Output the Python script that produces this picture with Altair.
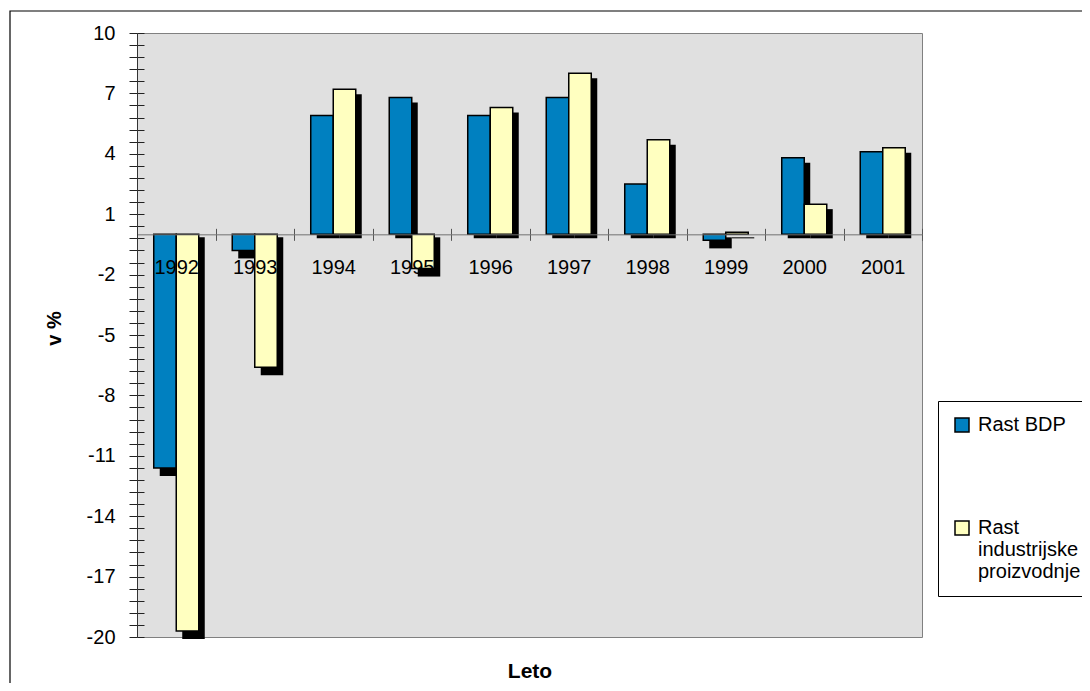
import altair as alt
import pandas as pd

# ---- data ----
years = ["1992", "1993", "1994", "1995", "1996", "1997", "1998", "1999", "2000", "2001"]
series = ["Rast BDP", "Rast industrijske proizvodnje"]
rast_bdp = [-11.6, -0.8, 5.9, 6.8, 5.9, 6.8, 2.5, -0.3, 3.8, 4.1]
rast_ind = [-19.7, -6.6, 7.2, -1.7, 6.3, 8.0, 4.7, 0.1, 1.5, 4.3]
y_major = [10, 7, 4, 1, -2, -5, -8, -11, -14, -17, -20]
colors = ["#0080C0", "#FFFFC0"]

rows = []
for i, yr in enumerate(years):
    rows.append({"year": yr, "series": series[0], "v": rast_bdp[i]})
    rows.append({"year": yr, "series": series[1], "v": rast_ind[i]})
df = pd.DataFrame(rows)

W, H = 785, 604
ymin, ymax = -20, 10
zero_px = H * ymax / (ymax - ymin)
minor_ticks = [round(ymin + 0.6 * i, 1) for i in range(51)]
major_js = "[" + ",".join(str(v) for v in y_major) + "]"

FONT = "Liberation Sans"
xscale = alt.Scale(paddingInner=0, paddingOuter=0)
yscale = alt.Scale(domain=[ymin, ymax], nice=False, zero=False)
offscale = alt.Scale(paddingInner=0, paddingOuter=0.744)
# same sub-bands, shifted a few pixels to the right for the drop shadow
shadow_offscale = alt.Scale(paddingInner=0, paddingOuter=0.744, align=0.679)

base = alt.Chart(df)
xoff = alt.XOffset("series:N", sort=series, scale=offscale)
xoff_sh = alt.XOffset("series:N", sort=series, scale=shadow_offscale)

# shadows of positive bars (also carries the inward-pointing helper ticks)
shadow_pos = base.transform_filter("datum.v >= 0").mark_bar(
    color="black", yOffset=5, y2Offset=4
).encode(
    x=alt.X("year:N", sort=years, scale=xscale,
            axis=alt.Axis(orient="top", offset=-zero_px, labels=False, domain=False,
                          ticks=True, tickSize=6, tickBand="extent", tickColor="#555555",
                          title=None, grid=False, zindex=1)),
    xOffset=xoff_sh,
    y=alt.Y("v:Q", scale=yscale,
            axis=alt.Axis(orient="right", offset=-W, labels=False, domain=False,
                          tickSize=7, values=minor_ticks, tickColor="#222222",
                          title=None, grid=False, zindex=1)),
    y2=alt.datum(0),
)

shadow_neg = base.transform_filter("datum.v < 0").mark_bar(
    color="black", yOffset=8, y2Offset=3
).encode(
    x=alt.X("year:N", sort=years, scale=xscale, axis=None),
    xOffset=xoff_sh,
    y=alt.Y("v:Q", scale=yscale, axis=None),
    y2=alt.datum(0),
)

bars = base.mark_bar(stroke="black", strokeWidth=1.5).encode(
    x=alt.X("year:N", sort=years, scale=xscale,
            axis=alt.Axis(orient="bottom", offset=-(H - zero_px), labelAngle=0,
                          labelFontSize=20, labelFont=FONT, labelColor="black",
                          labelPadding=17, tickSize=6, tickBand="extent",
                          domainColor="#707070", tickColor="#555555", grid=False,
                          title="Leto", titleFontSize=21, titleFontWeight="bold",
                          titleFont=FONT, titleColor="black",
                          titleY=(H - zero_px) + 34, titleBaseline="middle",
                          zindex=1)),
    xOffset=xoff,
    y=alt.Y("v:Q", scale=yscale,
            axis=alt.Axis(orient="left", values=minor_ticks,
                          labelExpr="indexof(" + major_js + ", datum.value) >= 0 ? toString(datum.value) : ''",
                          labelOverlap=False, labelFlush=False,
                          labelFontSize=20, labelFont=FONT, labelColor="black",
                          tickSize=8, labelPadding=14, domainColor="#333333",
                          tickColor="#222222", grid=False,
                          title="v %", titleFontSize=20, titleFontWeight="bold",
                          titleFont=FONT, titleColor="black",
                          titleX=-83, titleY=295, titleAlign="center",
                          titleBaseline="middle", zindex=1)),
    y2=alt.datum(0),
    color=alt.Color("series:N", sort=series,
                    scale=alt.Scale(domain=series, range=colors),
                    legend=alt.Legend(orient="none", legendX=801, legendY=368,
                                      title=None, symbolType="square", symbolSize=196,
                                      symbolStrokeColor="black", symbolStrokeWidth=1.5,
                                      labelFontSize=20, labelFont=FONT, labelColor="black",
                                      labelLimit=400, labelOffset=6, padding=14,
                                      strokeColor="black", fillColor="white",
                                      rowPadding=83,
                                      labelExpr="datum.label == 'Rast BDP' ? 'Rast BDP' : ['Rast', 'industrijske', 'proizvodnje']")),
)

frame = alt.Chart(pd.DataFrame({"f": [0]})).mark_rect(
    fillOpacity=0, stroke="black", strokeWidth=1.2
).encode(
    x=alt.value(-127), x2=alt.value(980),
    y=alt.value(-22), y2=alt.value(680),
)

chart = alt.layer(frame, shadow_pos, shadow_neg, bars).resolve_axis(
    x="independent", y="independent"
).resolve_scale(
    xOffset="independent"
).properties(
    width=W, height=H,
    autosize=alt.AutoSizeParams(type="none"),
    padding={"left": 129, "top": 25, "right": 160, "bottom": 46},
    background="white",
).configure_view(
    fill="#E0E0E0", stroke="#808080", strokeWidth=1
)

chart.save("out.html", embed_options={"renderer": "svg", "actions": False})
